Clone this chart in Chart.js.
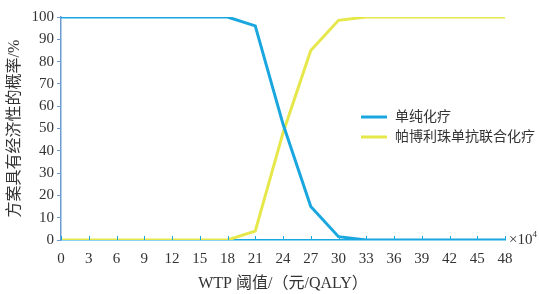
<!DOCTYPE html>
<html>
<head>
<meta charset="utf-8">
<script src="https://cdn.jsdelivr.net/npm/chart.js@4/dist/chart.umd.min.js"></script>
<style>
  html, body { margin: 0; padding: 0; background: #fff; }
  #wrap { width: 539px; height: 294px; }
</style>
</head>
<body>
<div id="wrap"><canvas id="ceacChart"></canvas></div>
<script>
// WTP thresholds (x10^4 yuan/QALY)
const wtpValues = [0, 3, 6, 9, 12, 15, 18, 21, 24, 27, 30, 33, 36, 39, 42, 45, 48];
const chemoProb = [100, 100, 100, 100, 100, 100, 100, 96, 52, 15, 1.5, 0, 0, 0, 0, 0, 0];
const comboProb = [0, 0, 0, 0, 0, 0, 0, 4, 48, 85, 98.5, 100, 100, 100, 100, 100, 100];
const seriesNames = ['单纯化疗', '帕博利珠单抗联合化疗'];

const fontFamily = '"Liberation Serif", "Noto Sans CJK SC", serif';
const blue = '#1aa7df';
const yellow = '#e6e74a';

const toPoints = (vals) => vals.map((v, i) => ({x: wtpValues[i], y: v}));

// extras: inward x ticks, legend inside plot, x10^4 unit
const extras = {
    id: 'extras',
    afterDraw(chart) {
        const ctx = chart.ctx;
        const x = chart.scales.x;
        const area = chart.chartArea;
        ctx.save();
        ctx.strokeStyle = blue;
        ctx.lineWidth = 1;
        wtpValues.forEach(v => {
            const px = Math.round(x.getPixelForValue(v)) + 0.5;
            ctx.beginPath();
            ctx.moveTo(px, area.bottom);
            ctx.lineTo(px, area.bottom - 4);
            ctx.stroke();
        });

        // legend
        const items = chart.data.datasets;
        items.forEach((ds, i) => {
            const y = 117 + i * 20;
            ctx.strokeStyle = ds.borderColor;
            ctx.lineWidth = 3;
            ctx.beginPath();
            ctx.moveTo(361, y);
            ctx.lineTo(387, y);
            ctx.stroke();
            ctx.fillStyle = '#333';
            ctx.font = '14px ' + fontFamily;
            ctx.textBaseline = 'middle';
            ctx.textAlign = 'left';
            ctx.fillText(ds.label, 395, y);
        });

        // unit
        ctx.fillStyle = '#333';
        ctx.font = '15px ' + fontFamily;
        ctx.textBaseline = 'middle';
        ctx.fillText('×10', area.right + 4, area.bottom);
        const w = ctx.measureText('×10').width;
        ctx.font = '9px ' + fontFamily;
        ctx.fillText('4', area.right + 4 + w, area.bottom - 5);
        ctx.restore();
    }
};

const ctx = document.getElementById('ceacChart').getContext('2d');
const ceacChart = new Chart(ctx, {
    type: 'line',
    data: {
        datasets: [
            {
                label: seriesNames[0],
                data: toPoints(chemoProb),
                borderColor: blue,
                borderWidth: 3,
                pointRadius: 0,
                tension: 0
            },
            {
                label: seriesNames[1],
                data: toPoints(comboProb),
                borderColor: yellow,
                borderWidth: 3,
                pointRadius: 0,
                tension: 0
            }
        ]
    },
    options: {
        responsive: true,
        maintainAspectRatio: false,
        animation: false,
        layout: { padding: { top: 17, right: 34, left: 0, bottom: 0 } },
        plugins: {
            legend: { display: false },
            tooltip: { enabled: false }
        },
        scales: {
            x: {
                type: 'linear',
                min: 0,
                max: 48,
                afterFit: (s) => { s.height = 54; },
                afterBuildTicks: (s) => { s.ticks = wtpValues.map(v => ({value: v})); },
                grid: { display: true, drawOnChartArea: false, drawTicks: false },
                border: { color: blue, width: 1.5 },
                ticks: {
                    color: '#333',
                    padding: 10,
                    maxRotation: 0,
                    autoSkip: false,
                    font: { family: fontFamily, size: 15 }
                },
                title: {
                    display: true,
                    text: 'WTP 阈值/（元/QALY）',
                    color: '#333',
                    font: { family: fontFamily, size: 16 },
                    padding: { top: 0, bottom: 1 }
                }
            },
            y: {
                min: 0,
                max: 100,
                afterFit: (s) => { s.width = 61; },
                grid: { drawOnChartArea: false, drawTicks: true, tickLength: 4, color: '#6e9bcf' },
                border: { color: '#6e9bcf', width: 1.5 },
                ticks: {
                    stepSize: 10,
                    color: '#333',
                    padding: 3,
                    font: { family: fontFamily, size: 15 }
                },
                title: {
                    display: true,
                    text: '方案具有经济性的概率/%',
                    color: '#333',
                    font: { family: fontFamily, size: 16 },
                    padding: { top: 5, bottom: 0 }
                }
            }
        }
    },
    plugins: [extras]
});
</script>
</body>
</html>
